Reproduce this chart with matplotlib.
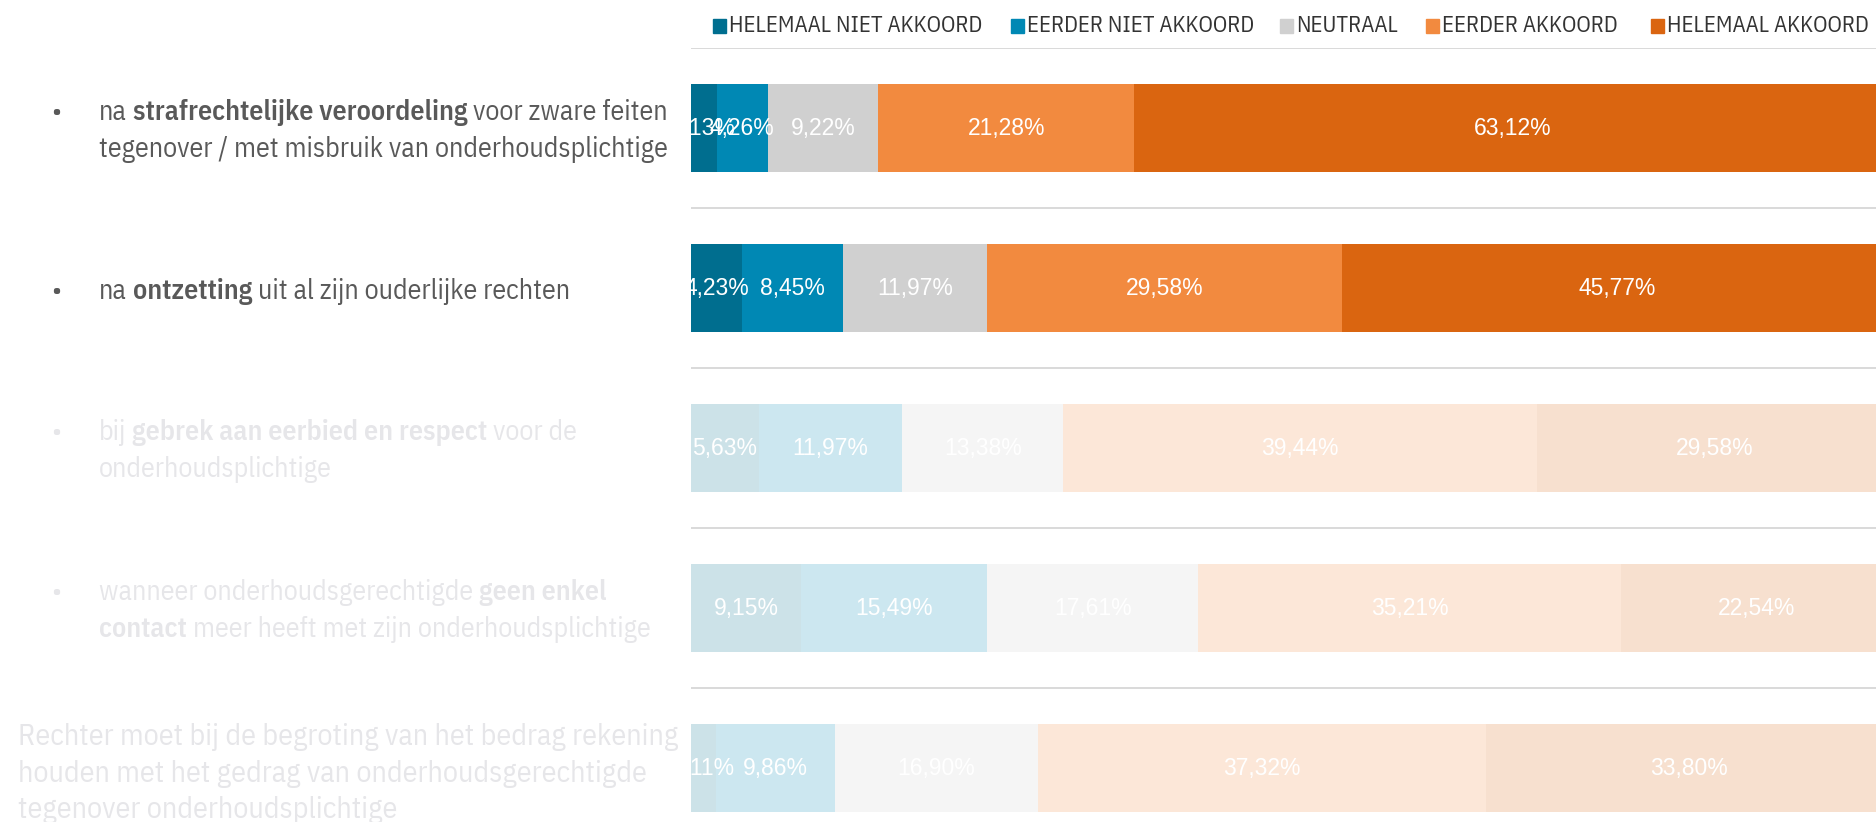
import matplotlib
matplotlib.use('Agg')
import matplotlib.pyplot as plt
from matplotlib import font_manager as fm
from matplotlib.transforms import IdentityTransform
from matplotlib.patches import Rectangle
import re

# ---------------- data ----------------
categories = [
    "na **strafrechtelijke veroordeling** voor zware feiten\ntegenover / met misbruik van onderhoudsplichtige",
    "na **ontzetting** uit al zijn ouderlijke rechten",
    "bij **gebrek aan eerbied en respect** voor de\nonderhoudsplichtige",
    "wanneer onderhoudsgerechtigde **geen enkel**\n**contact** meer heeft met zijn onderhoudsplichtige",
    "Rechter moet bij de begroting van het bedrag rekening\nhouden met het gedrag van onderhoudsgerechtigde\ntegenover onderhoudsplichtige",
]
bullets = [True, True, True, True, False]
highlighted = [True, True, False, False, False]

series_names = ["HELEMAAL NIET AKKOORD", "EERDER NIET AKKOORD", "NEUTRAAL",
                "EERDER AKKOORD", "HELEMAAL AKKOORD"]
helemaal_niet_akkoord = [2.13, 4.23, 5.63, 9.15, 2.11]
eerder_niet_akkoord = [4.26, 8.45, 11.97, 15.49, 9.86]
neutraal = [9.22, 11.97, 13.38, 17.61, 16.90]
eerder_akkoord = [21.28, 29.58, 39.44, 35.21, 37.32]
helemaal_akkoord = [63.12, 45.77, 29.58, 22.54, 33.80]
series = [helemaal_niet_akkoord, eerder_niet_akkoord, neutraal,
          eerder_akkoord, helemaal_akkoord]
colors = ['#006E8F', '#0088B4', '#D0D0D0', '#F28A3F', '#DA6510']

# ---------------- fonts ----------------
names = {f.name for f in fm.fontManager.ttflist}
if 'IBM Plex Sans Condensed' in names:
    COND = dict(family='IBM Plex Sans Condensed')
elif 'Liberation Sans Narrow' in names:
    COND = dict(family='Liberation Sans Narrow')
else:
    COND = dict(family='DejaVu Sans', stretch='condensed')
LAB = dict(family='Liberation Sans')

W, H, DPI = 1876, 822, 100
fig = plt.figure(figsize=(W / DPI, H / DPI), dpi=DPI)
fig.patch.set_facecolor('white')
renderer = fig.canvas.get_renderer()

def text_w(s, weight, fs):
    t = fig.text(0, 0, s, fontsize=fs, fontweight=weight,
                 transform=IdentityTransform(), **COND)
    w = t.get_window_extent(renderer).width
    t.remove()
    return w

# fit font sizes to the reference's text widths
FS = 10 * 568 / text_w("tegenover / met misbruik van onderhoudsplichtige", 'normal', 10)
LFS = 10 * 253 / text_w("HELEMAAL NIET AKKOORD", 'normal', 10)
label_scale = [1.0, 1.0, 1.0, 1.0, 1.074]
label_shift = [0, 0, 0, 0, 3]

# axes: left 691 px, 100 % at 1892 px, rows 160 px from y=48
ax_left, ax_right, ax_top, row_h = 691, 1892, 48, 160
n = len(categories)
ax = fig.add_axes([ax_left / W, 1 - (ax_top + n * row_h) / H,
                   (ax_right - ax_left) / W, n * row_h / H])
ax.set_xlim(0, 100)
ax.set_ylim(n - 0.5, -0.5)
ax.axis('off')

for i in range(n):
    left = 0.0
    for k, vals in enumerate(series):
        v = vals[i]
        alpha = 1.0 if highlighted[i] else 0.2
        ax.barh(i, v, left=left, height=0.556, color=colors[k], alpha=alpha,
                edgecolor='none', zorder=2)
        ax.text(left + v / 2, i, f"{v:.2f}".replace('.', ',') + '%',
                ha='center', va='center', color='white', fontsize=16.5,
                clip_on=True, zorder=3, **LAB)
        left += v
for b in range(n):
    ax.axhline(b - 0.5, color='#D9D9D9', lw=1.4, zorder=1)

# ---------------- category labels (rich text) ----------------
line_gap = 36.5
BOLD = 'semibold'

for i, cat in enumerate(categories):
    fs = FS * label_scale[i]
    space_w = {wt: text_w('x x', wt, fs) - text_w('xx', wt, fs) for wt in ('normal', BOLD)}
    col = '#595959' if highlighted[i] else '#E6E6E9'
    lines = cat.split('\n')
    yc = ax_top + row_h * (i + 0.5) + label_shift[i]
    x0 = 99 if bullets[i] else 18
    for li, line in enumerate(lines):
        ly = yc + (li - (len(lines) - 1) / 2) * line_gap
        base = H - (ly + 10.5)
        if bullets[i] and li == 0:
            fig.text(56, base, '•', fontsize=fs, color=col, ha='center', va='baseline',
                     transform=IdentityTransform(), **COND)
        parts = re.split(r'(\*\*.*?\*\*)', line)
        x = x0
        for p in parts:
            if not p:
                continue
            wt = BOLD if p.startswith('**') else 'normal'
            s = p.strip('*')
            lead = len(s) - len(s.lstrip(' '))
            trail = len(s) - len(s.rstrip(' '))
            core = s.strip(' ')
            x += lead * space_w[wt]
            if core:
                fig.text(x, base, core, fontsize=fs, fontweight=wt, color=col,
                         ha='left', va='baseline', transform=IdentityTransform(), **COND)
                x += text_w(core, wt, fs)
            x += trail * space_w[wt]

# ---------------- legend ----------------
leg_x = [713, 1011, 1280, 1426, 1651]
leg_y = 26
for k, name in enumerate(series_names):
    fig.patches.append(Rectangle((leg_x[k], H - leg_y - 7), 13, 14, color=colors[k],
                                 transform=IdentityTransform(), figure=fig))
    fig.text(leg_x[k] + 16, H - leg_y, name, fontsize=LFS, color='#333333', ha='left',
             va='center', transform=IdentityTransform(), **COND)

fig.savefig('out.png', dpi=DPI)
